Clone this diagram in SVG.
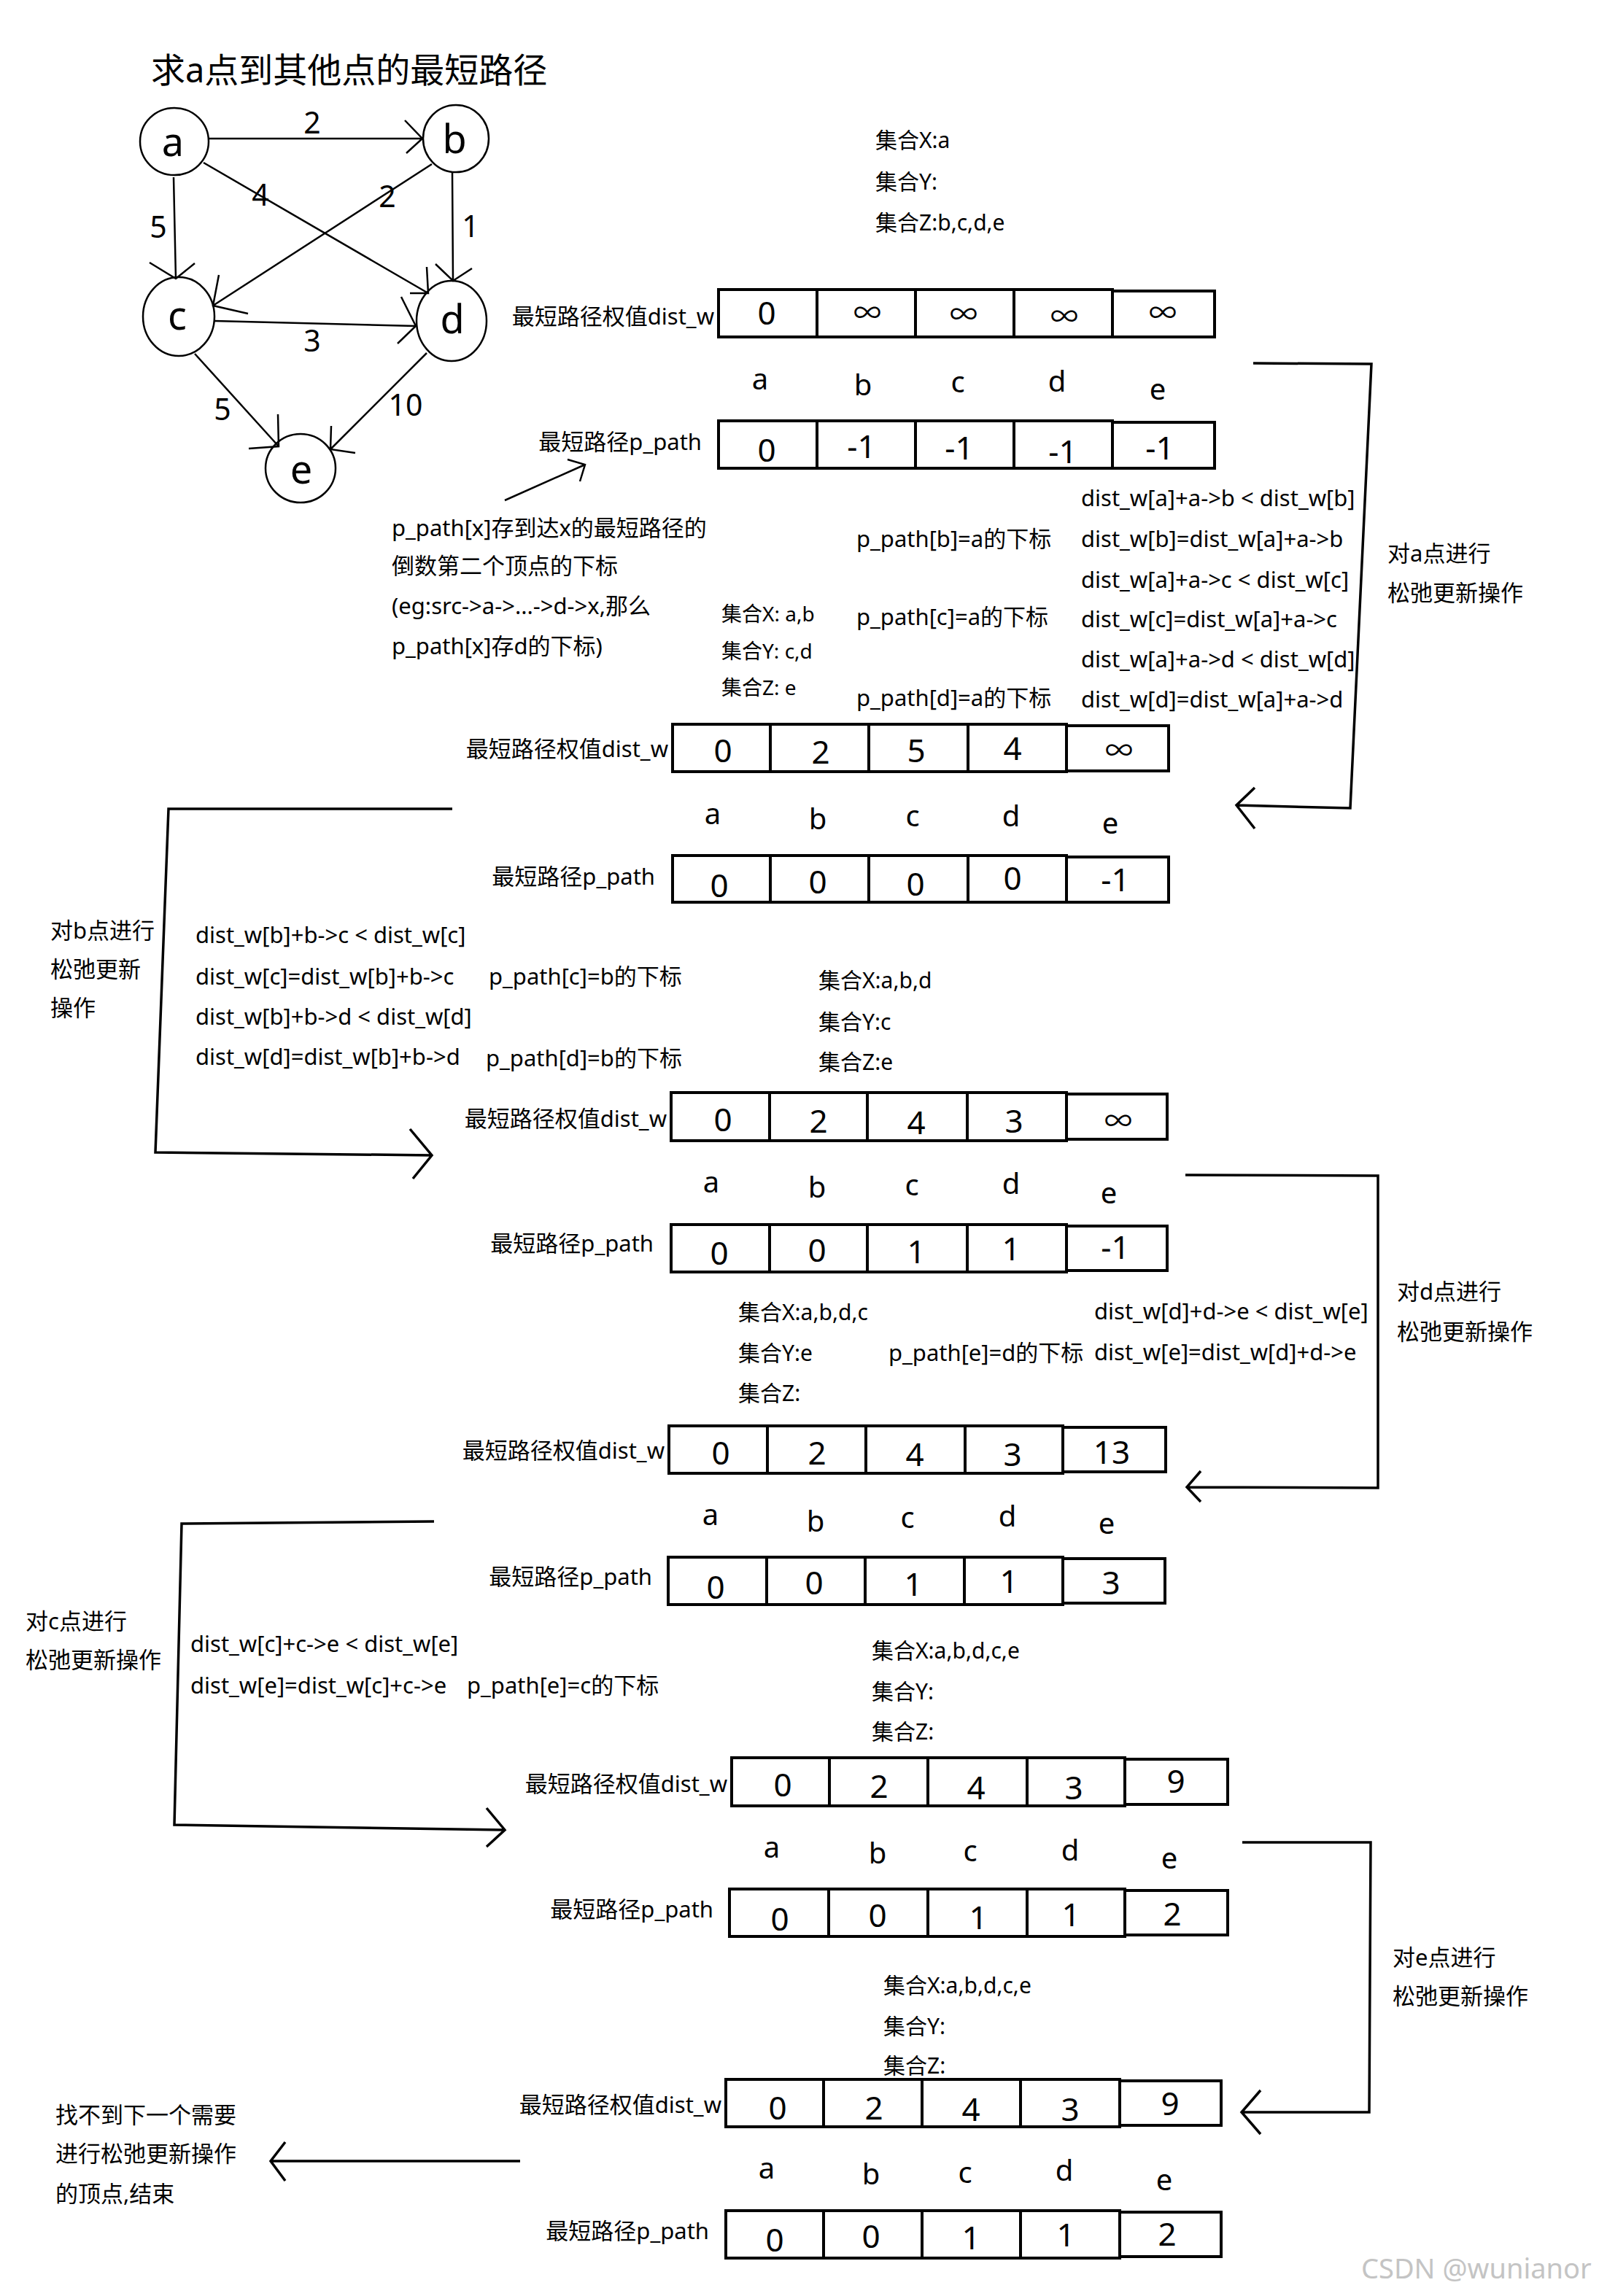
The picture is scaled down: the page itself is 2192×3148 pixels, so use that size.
<svg xmlns="http://www.w3.org/2000/svg" width="2192" height="3148" viewBox="0 0 2192 3148">
<style>
text{font-family:"Noto Sans","Noto Sans CJK SC","DejaVu Sans",sans-serif;fill:#000}
.lab{font-size:31px}
.set{font-size:30px}
.sm{font-size:28px}
.num{font-size:44px;text-anchor:middle}
.inf{font-size:38px;text-anchor:middle}
.let{font-size:40px;text-anchor:middle}
.end{text-anchor:end}
.node{fill:none;stroke:#000;stroke-width:2.5}
.nl{font-size:54px;text-anchor:middle}
.w{font-size:41px;text-anchor:middle}
.edge{fill:none;stroke:#000;stroke-width:2.5;stroke-linejoin:miter}
.box{fill:none;stroke:#000;stroke-width:4}
.br{fill:none;stroke:#000;stroke-width:3.5}
</style>
<rect width="2192" height="3148" fill="#fff"/>
<text x="207" y="113" style="font-size:47px">求a点到其他点的最短路径</text>

<g id="node-a"><ellipse cx="239" cy="194" rx="47" ry="46" class="node"/><text x="237" y="214" class="nl">a</text></g>
<g id="node-b"><ellipse cx="625" cy="190" rx="45" ry="46" class="node"/><text x="623" y="210" class="nl">b</text></g>
<g id="node-c"><ellipse cx="245" cy="434" rx="49" ry="54" class="node"/><text x="243" y="452" class="nl">c</text></g>
<g id="node-d"><ellipse cx="619" cy="440" rx="48" ry="55" class="node"/><text x="620" y="457" class="nl">d</text></g>
<g id="node-e"><ellipse cx="412" cy="642" rx="48" ry="47" class="node"/><text x="413" y="663" class="nl">e</text></g>

<g id="connectors">
<path class="edge" d="M286,190 L579,190 M555,165 L579,190 L557,210"/>
<path class="edge" d="M238,243 L241,382 M205,360 L241,382 L267,361"/>
<path class="edge" d="M279,223 L587,402 M585,366 L587,402 L562,402"/>
<path class="edge" d="M620,236 L621,385 M597,362 L621,385 L647,368"/>
<path class="edge" d="M592,225 L292,419 M300,377 L292,419 L340,430"/>
<path class="edge" d="M294,440 L570,447 M550,407 L570,447 L545,471"/>
<path class="edge" d="M267,485 L382,612 M381,568 L382,612 L341,615"/>
<path class="edge" d="M585,484 L453,616 M454,584 L453,616 L487,621"/>
<path class="edge" d="M692,686 L802,637 M778,630 L802,637 L795,660"/>
<path class="br" d="M1718,498 L1880,499 L1851,1108 L1695,1104 M1720,1080 L1695,1104 L1720,1136"/>
<path class="br" d="M620,1109 L231,1109 L213,1580 L592,1584 M562,1548 L592,1584 L566,1616"/>
<path class="br" d="M1625,1611 L1889,1612 L1889,2040 L1627,2039 M1646,2017 L1627,2039 L1646,2059"/>
<path class="br" d="M595,2086 L249,2089 L239,2502 L692,2509 M667,2479 L692,2509 L667,2532"/>
<path class="br" d="M1703,2526 L1879,2526 L1877,2896 L1702,2896 M1728,2866 L1702,2896 L1728,2926"/>
<path class="br" d="M713,2963 L371,2963 M391,2937 L371,2963 L391,2990"/>
</g>

<g id="weights">
<text x="428" y="183" class="w">2</text>
<text x="357" y="282" class="w">4</text>
<text x="531" y="284" class="w">2</text>
<text x="217" y="326" class="w">5</text>
<text x="645" y="325" class="w">1</text>
<text x="428" y="482" class="w">3</text>
<text x="305" y="576" class="w">5</text>
<text x="556" y="570" class="w">10</text>
</g>

<g id="step0-sets">
<text x="1200" y="203" class="set">集合X:a</text>
<text x="1200" y="260" class="set">集合Y:</text>
<text x="1200" y="316" class="set">集合Z:b,c,d,e</text>
</g>

<g id="arr1-dist">
<text x="979" y="445" class="lab end">最短路径权值dist_w</text>
<rect x="985" y="397" width="540" height="65" class="box"/><rect x="1525" y="399" width="140" height="63" class="box"/>
<path class="box" d="M1120,397V462M1255,397V462M1390,397V462"/>
<text x="1051" y="445" class="num">0</text><text x="1189" y="442" class="inf">∞</text><text x="1321" y="444" class="inf">∞</text><text x="1459" y="447" class="inf">∞</text><text x="1594" y="442" class="inf">∞</text>
</g>
<g id="row1-letters">
<text x="1042" y="534" class="let">a</text><text x="1183" y="542" class="let">b</text><text x="1313" y="538" class="let">c</text><text x="1449" y="537" class="let">d</text><text x="1587" y="548" class="let">e</text>
</g>
<g id="arr1-path">
<text x="962" y="617" class="lab end">最短路径p_path</text>
<rect x="985" y="577" width="540" height="65" class="box"/><rect x="1525" y="579" width="140" height="63" class="box"/>
<path class="box" d="M1120,577V642M1255,577V642M1390,577V642"/>
<text x="1051" y="633" class="num">0</text><text x="1181" y="628" class="num">-1</text><text x="1315" y="630" class="num">-1</text><text x="1457" y="635" class="num">-1</text><text x="1590" y="630" class="num">-1</text>
</g>

<g id="note">
<text x="537" y="735" class="lab">p_path[x]存到达x的最短路径的</text>
<text x="537" y="787" class="lab">倒数第二个顶点的下标</text>
<text x="537" y="842" class="lab">(eg:src-&gt;a-&gt;...-&gt;d-&gt;x,那么</text>
<text x="537" y="897" class="lab">p_path[x]存d的下标)</text>
</g>
<g id="step-a">
<text x="1482" y="694" class="lab">dist_w[a]+a-&gt;b &lt; dist_w[b]</text>
<text x="1482" y="750" class="lab">dist_w[b]=dist_w[a]+a-&gt;b</text>
<text x="1482" y="806" class="lab">dist_w[a]+a-&gt;c &lt; dist_w[c]</text>
<text x="1482" y="860" class="lab">dist_w[c]=dist_w[a]+a-&gt;c</text>
<text x="1482" y="915" class="lab">dist_w[a]+a-&gt;d &lt; dist_w[d]</text>
<text x="1482" y="970" class="lab">dist_w[d]=dist_w[a]+a-&gt;d</text>
<text x="1174" y="750" class="lab">p_path[b]=a的下标</text>
<text x="1174" y="857" class="lab">p_path[c]=a的下标</text>
<text x="1174" y="968" class="lab">p_path[d]=a的下标</text>
<text x="989" y="852" class="sm">集合X: a,b</text>
<text x="989" y="903" class="sm">集合Y: c,d</text>
<text x="989" y="953" class="sm">集合Z:  e</text>
<text x="1902" y="770" class="lab">对a点进行</text>
<text x="1902" y="824" class="lab">松弛更新操作</text>
</g>

<g id="arr2-dist">
<text x="916" y="1038" class="lab end">最短路径权值dist_w</text>
<rect x="922" y="993" width="540" height="65" class="box"/><rect x="1462" y="995" width="140" height="62" class="box"/>
<path class="box" d="M1056,993V1058M1191,993V1058M1327,993V1058"/>
<text x="991" y="1045" class="num">0</text><text x="1125" y="1047" class="num">2</text><text x="1256" y="1045" class="num">5</text><text x="1388" y="1042" class="num">4</text><text x="1534" y="1042" class="inf">∞</text>
</g>
<g id="row2-letters">
<text x="977" y="1130" class="let">a</text><text x="1121" y="1137" class="let">b</text><text x="1251" y="1133" class="let">c</text><text x="1386" y="1133" class="let">d</text><text x="1522" y="1143" class="let">e</text>
</g>
<g id="arr2-path">
<text x="898" y="1213" class="lab end">最短路径p_path</text>
<rect x="922" y="1173" width="540" height="64" class="box"/><rect x="1462" y="1175" width="140" height="62" class="box"/>
<path class="box" d="M1056,1173V1237M1191,1173V1237M1327,1173V1237"/>
<text x="986" y="1230" class="num">0</text><text x="1121" y="1225" class="num">0</text><text x="1255" y="1228" class="num">0</text><text x="1388" y="1220" class="num">0</text><text x="1529" y="1222" class="num">-1</text>
</g>

<g id="step-b">
<text x="69" y="1287" class="lab">对b点进行</text>
<text x="69" y="1340" class="lab">松弛更新</text>
<text x="69" y="1393" class="lab">操作</text>
<text x="268" y="1293" class="lab">dist_w[b]+b-&gt;c &lt; dist_w[c]</text>
<text x="268" y="1350" class="lab">dist_w[c]=dist_w[b]+b-&gt;c</text>
<text x="268" y="1405" class="lab">dist_w[b]+b-&gt;d &lt; dist_w[d]</text>
<text x="268" y="1460" class="lab">dist_w[d]=dist_w[b]+b-&gt;d</text>
<text x="670" y="1350" class="lab">p_path[c]=b的下标</text>
<text x="666" y="1462" class="lab">p_path[d]=b的下标</text>
<text x="1122" y="1355" class="set">集合X:a,b,d</text>
<text x="1122" y="1412" class="set">集合Y:c</text>
<text x="1122" y="1467" class="set">集合Z:e</text>
</g>

<g id="arr3-dist">
<text x="914" y="1545" class="lab end">最短路径权值dist_w</text>
<rect x="920" y="1498" width="542" height="66" class="box"/><rect x="1462" y="1500" width="138" height="62" class="box"/>
<path class="box" d="M1055,1498V1564M1189,1498V1564M1326,1498V1564"/>
<text x="991" y="1551" class="num">0</text><text x="1122" y="1553" class="num">2</text><text x="1256" y="1555" class="num">4</text><text x="1390" y="1553" class="num">3</text><text x="1533" y="1550" class="inf">∞</text>
</g>
<g id="row3-letters">
<text x="975" y="1635" class="let">a</text><text x="1120" y="1642" class="let">b</text><text x="1250" y="1639" class="let">c</text><text x="1386" y="1637" class="let">d</text><text x="1520" y="1650" class="let">e</text>
</g>
<g id="arr3-path">
<text x="896" y="1716" class="lab end">最短路径p_path</text>
<rect x="920" y="1679" width="542" height="65" class="box"/><rect x="1462" y="1681" width="138" height="61" class="box"/>
<path class="box" d="M1055,1679V1744M1189,1679V1744M1326,1679V1744"/>
<text x="986" y="1734" class="num">0</text><text x="1120" y="1730" class="num">0</text><text x="1256" y="1732" class="num">1</text><text x="1386" y="1728" class="num">1</text><text x="1529" y="1726" class="num">-1</text>
</g>

<g id="step-d">
<text x="1012" y="1810" class="set">集合X:a,b,d,c</text>
<text x="1012" y="1866" class="set">集合Y:e</text>
<text x="1012" y="1921" class="set">集合Z:</text>
<text x="1218" y="1866" class="lab">p_path[e]=d的下标</text>
<text x="1500" y="1809" class="lab">dist_w[d]+d-&gt;e &lt; dist_w[e]</text>
<text x="1500" y="1865" class="lab">dist_w[e]=dist_w[d]+d-&gt;e</text>
<text x="1915" y="1782" class="lab">对d点进行</text>
<text x="1915" y="1837" class="lab">松弛更新操作</text>
</g>

<g id="arr4-dist">
<text x="911" y="2000" class="lab end">最短路径权值dist_w</text>
<rect x="917" y="1955" width="540" height="65" class="box"/><rect x="1457" y="1957" width="141" height="61" class="box"/>
<path class="box" d="M1052,1955V2020M1187,1955V2020M1323,1955V2020"/>
<text x="988" y="2008" class="num">0</text><text x="1120" y="2008" class="num">2</text><text x="1254" y="2010" class="num">4</text><text x="1388" y="2010" class="num">3</text><text x="1524" y="2007" class="num">13</text>
</g>
<g id="row4-letters">
<text x="974" y="2091" class="let">a</text><text x="1118" y="2100" class="let">b</text><text x="1244" y="2095" class="let">c</text><text x="1381" y="2093" class="let">d</text><text x="1517" y="2103" class="let">e</text>
</g>
<g id="arr4-path">
<text x="894" y="2173" class="lab end">最短路径p_path</text>
<rect x="916" y="2135" width="541" height="65" class="box"/><rect x="1457" y="2137" width="140" height="61" class="box"/>
<path class="box" d="M1051,2135V2200M1186,2135V2200M1322,2135V2200"/>
<text x="981" y="2192" class="num">0</text><text x="1116" y="2186" class="num">0</text><text x="1252" y="2188" class="num">1</text><text x="1383" y="2184" class="num">1</text><text x="1523" y="2186" class="num">3</text>
</g>

<g id="step-c">
<text x="35" y="2234" class="lab">对c点进行</text>
<text x="35" y="2287" class="lab">松弛更新操作</text>
<text x="261" y="2265" class="lab">dist_w[c]+c-&gt;e &lt; dist_w[e]</text>
<text x="261" y="2322" class="lab">dist_w[e]=dist_w[c]+c-&gt;e</text>
<text x="640" y="2322" class="lab">p_path[e]=c的下标</text>
<text x="1195" y="2274" class="set">集合X:a,b,d,c,e</text>
<text x="1195" y="2330" class="set">集合Y:</text>
<text x="1195" y="2385" class="set">集合Z:</text>
</g>

<g id="arr5-dist">
<text x="997" y="2457" class="lab end">最短路径权值dist_w</text>
<rect x="1003" y="2410" width="539" height="66" class="box"/><rect x="1542" y="2412" width="141" height="62" class="box"/>
<path class="box" d="M1137,2410V2476M1272,2410V2476M1408,2410V2476"/>
<text x="1073" y="2463" class="num">0</text><text x="1205" y="2465" class="num">2</text><text x="1338" y="2467" class="num">4</text><text x="1472" y="2467" class="num">3</text><text x="1612" y="2458" class="num">9</text>
</g>
<g id="row5-letters">
<text x="1058" y="2547" class="let">a</text><text x="1203" y="2555" class="let">b</text><text x="1330" y="2552" class="let">c</text><text x="1467" y="2551" class="let">d</text><text x="1603" y="2562" class="let">e</text>
</g>
<g id="arr5-path">
<text x="978" y="2629" class="lab end">最短路径p_path</text>
<rect x="1000" y="2590" width="542" height="65" class="box"/><rect x="1542" y="2592" width="141" height="61" class="box"/>
<path class="box" d="M1136,2590V2655M1272,2590V2655M1408,2590V2655"/>
<text x="1069" y="2647" class="num">0</text><text x="1203" y="2642" class="num">0</text><text x="1341" y="2645" class="num">1</text><text x="1468" y="2641" class="num">1</text><text x="1607" y="2640" class="num">2</text>
</g>

<g id="step-e">
<text x="1909" y="2695" class="lab">对e点进行</text>
<text x="1909" y="2748" class="lab">松弛更新操作</text>
<text x="1211" y="2733" class="set">集合X:a,b,d,c,e</text>
<text x="1211" y="2789" class="set">集合Y:</text>
<text x="1211" y="2843" class="set">集合Z:</text>
</g>

<g id="arr6-dist">
<text x="989" y="2897" class="lab end">最短路径权值dist_w</text>
<rect x="995" y="2851" width="540" height="65" class="box"/><rect x="1535" y="2853" width="139" height="61" class="box"/>
<path class="box" d="M1129,2851V2916M1264,2851V2916M1399,2851V2916"/>
<text x="1066" y="2906" class="num">0</text><text x="1198" y="2906" class="num">2</text><text x="1331" y="2908" class="num">4</text><text x="1467" y="2908" class="num">3</text><text x="1604" y="2900" class="num">9</text>
</g>
<g id="row6-letters">
<text x="1051" y="2987" class="let">a</text><text x="1194" y="2995" class="let">b</text><text x="1323" y="2993" class="let">c</text><text x="1459" y="2990" class="let">d</text><text x="1596" y="3003" class="let">e</text>
</g>
<g id="arr6-path">
<text x="972" y="3070" class="lab end">最短路径p_path</text>
<rect x="995" y="3031" width="540" height="65" class="box"/><rect x="1535" y="3033" width="139" height="61" class="box"/>
<path class="box" d="M1129,3031V3096M1264,3031V3096M1399,3031V3096"/>
<text x="1062" y="3087" class="num">0</text><text x="1194" y="3082" class="num">0</text><text x="1331" y="3084" class="num">1</text><text x="1461" y="3080" class="num">1</text><text x="1600" y="3079" class="num">2</text>
</g>

<g id="finish">
<text x="76" y="2911" class="lab">找不到下一个需要</text>
<text x="76" y="2964" class="lab">进行松弛更新操作</text>
<text x="76" y="3019" class="lab">的顶点,结束</text>
</g>
<text x="1866" y="3124" style="font-size:38px;fill:#c4c4c4">CSDN @wunianor</text>
</svg>
